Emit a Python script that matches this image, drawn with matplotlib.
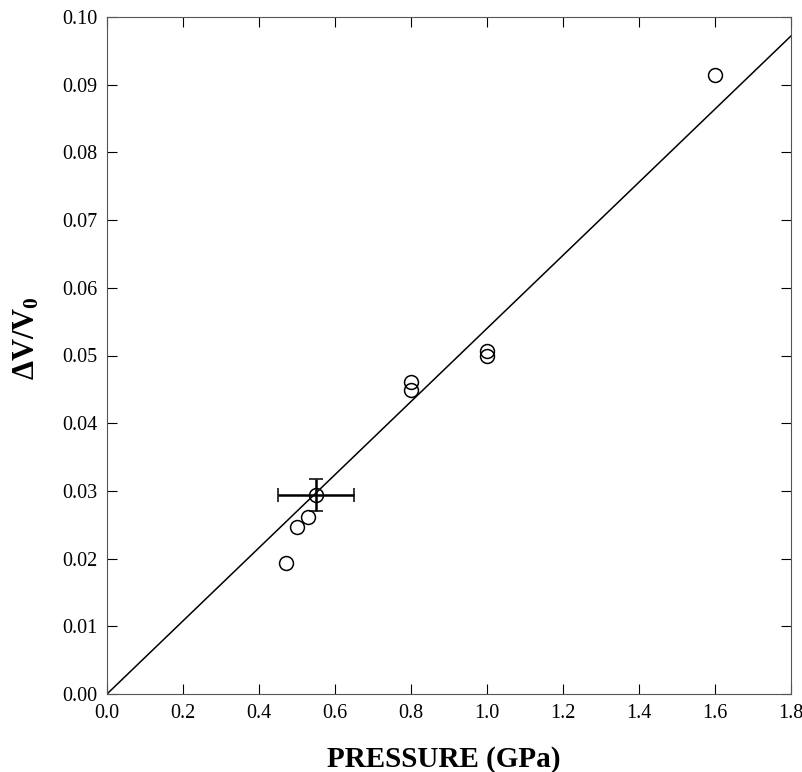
import numpy as np
import matplotlib
matplotlib.use("Agg")
import matplotlib.pyplot as plt

# measured points (pressure in GPa, relative volume change)
pressure = [0.47, 0.50, 0.53, 0.80, 0.80, 1.00, 1.00, 1.60]
dv_v0 = [0.0194, 0.0247, 0.0261, 0.0461, 0.0449, 0.0507, 0.0500, 0.0914]

# representative point with error bars
err_p = 0.55
err_v = 0.0294
err_px = 0.10
err_vy = 0.0023

# fitted line through origin
fit_slope = 0.0540
fit_range = [0.0, 1.8]

xticks = [0.0, 0.2, 0.4, 0.6, 0.8, 1.0, 1.2, 1.4, 1.6, 1.8]
yticks = [0.00, 0.01, 0.02, 0.03, 0.04, 0.05, 0.06, 0.07, 0.08, 0.09, 0.10]

plt.rcParams['font.family'] = ['Liberation Serif', 'DejaVu Serif']
plt.rcParams['mathtext.fontset'] = 'custom'
plt.rcParams['mathtext.bf'] = 'Liberation Serif:bold'
plt.rcParams['mathtext.rm'] = 'Liberation Serif'

W, H = 803, 772
fig = plt.figure(figsize=(W / 100, H / 100), dpi=100)
ax = fig.add_axes([107 / W, 1 - 694 / H, 684 / W, 677 / H])

fx = np.array(fit_range)
ax.plot(fx, fit_slope * fx, color='black', lw=1.1)

ax.plot(pressure, dv_v0, 'o', mfc='none', mec='black', ms=10, mew=1.1)
ax.errorbar([err_p], [err_v], xerr=[err_px], yerr=[err_vy], fmt='o',
            mfc='none', mec='black', ms=10, mew=1.1, ecolor='black',
            elinewidth=1.8, capsize=5, capthick=1.8)

ax.set_xlim(0, 1.8)
ax.set_ylim(0, 0.10)
ax.set_xticks(xticks)
ax.set_yticks(yticks)
ax.set_xticklabels([f"{v:.1f}" for v in xticks])
ax.set_yticklabels([f"{v:.2f}" for v in yticks])
ax.tick_params(direction='in', length=7, width=0.8, top=True, right=True,
               labelsize=14.5, pad=7)
for s in ax.spines.values():
    s.set_linewidth(0.8)
    s.set_color('#555555')

# axis titles placed in figure pixels to keep them inside the canvas
fig.text(444 / W, 1 - 767 / H, 'PRESSURE (GPa)', fontsize=21,
         fontweight='bold', ha='center', va='baseline')
fig.text(27 / W, 1 - 338 / H, r'$\mathbf{\Delta V/V_0}$', fontsize=22,
         rotation=90, ha='center', va='center')

fig.savefig('out.png', dpi=100)
